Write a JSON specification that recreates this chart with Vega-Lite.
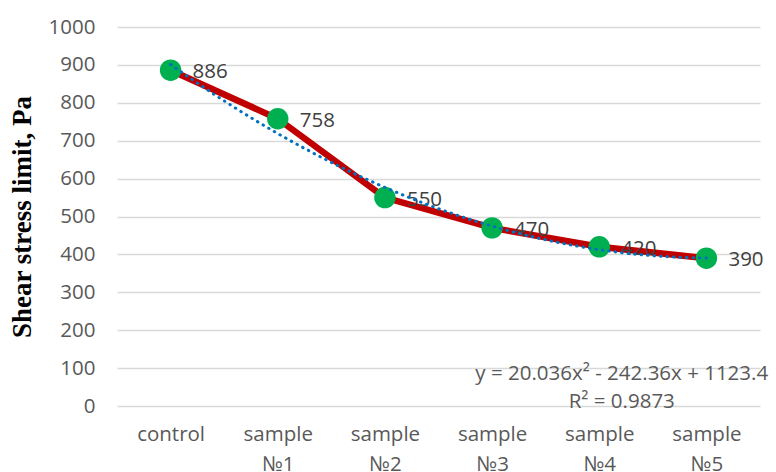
{
  "$schema": "https://vega.github.io/schema/vega-lite/v6.json",
  "width": 643,
  "height": 379,
  "autosize": "none",
  "padding": {"left": 117, "top": 27, "right": 16, "bottom": 66},
  "background": "white",
  "config": {"view": {"stroke": null}},
  "datasets": {
    "main": [
      {"idx": 1, "name": "control", "v": 886},
      {"idx": 2, "name": "sample №1", "v": 758},
      {"idx": 3, "name": "sample №2", "v": 550},
      {"idx": 4, "name": "sample №3", "v": 470},
      {"idx": 5, "name": "sample №4", "v": 420},
      {"idx": 6, "name": "sample №5", "v": 390}
    ],
    "eq": [
      {"idx": 5.21, "v": 84, "t": "y = 20.036x² - 242.36x + 1123.4"},
      {"idx": 5.21, "v": 10.5, "t": "R² = 0.9873"}
    ]
  },
  "encoding": {
    "x": {
      "field": "idx",
      "type": "quantitative",
      "scale": {"domain": [0.5, 6.5], "nice": false, "zero": false},
      "axis": {
        "title": null,
        "values": [1, 2, 3, 4, 5, 6],
        "labelExpr": "datum.value == 1 ? 'control' : ['sample', '№' + (datum.value - 1)]",
        "grid": false,
        "domain": false,
        "ticks": false,
        "labelFont": "Open Sans",
        "labelFontSize": 20.5,
        "labelColor": "#595959",
        "labelPadding": 18,
        "labelLineHeight": 30,
        "labelBaseline": "top"
      }
    },
    "y": {
      "field": "v",
      "type": "quantitative",
      "scale": {"domain": [0, 1000], "nice": false},
      "axis": {
        "title": "Shear stress limit, Pa",
        "titleFont": "Liberation Serif",
        "titleFontWeight": "bold",
        "titleFontSize": 27,
        "titleColor": "#000000",
        "titleX": -95,
        "titleBaseline": "middle",
        "values": [0, 100, 200, 300, 400, 500, 600, 700, 800, 900, 1000],
        "format": "d",
        "grid": true,
        "gridColor": "#d9d9d9",
        "gridWidth": 1.5,
        "domain": false,
        "ticks": false,
        "labelFont": "Open Sans",
        "labelFontSize": 20.5,
        "labelColor": "#595959",
        "labelPadding": 22
      }
    }
  },
  "layer": [
    {
      "data": {"name": "main"},
      "mark": {"type": "line", "color": "#C00000", "strokeWidth": 6.5}
    },
    {
      "data": {"name": "main"},
      "mark": {"type": "circle", "color": "#00B050", "opacity": 1, "size": 460}
    },
    {
      "data": {"name": "main"},
      "mark": {"type": "text", "align": "left", "baseline": "middle", "dx": 22, "dy": 2, "font": "Open Sans", "fontSize": 20.5, "color": "#404040"},
      "encoding": {"text": {"field": "v", "type": "quantitative"}}
    },
    {
      "data": {"name": "main"},
      "transform": [{"regression": "v", "on": "idx", "method": "poly", "order": 2}],
      "mark": {"type": "line", "color": "#0070C0", "strokeWidth": 3, "strokeDash": [0.5, 6], "strokeCap": "round"}
    },
    {
      "data": {"name": "eq"},
      "mark": {"type": "text", "align": "center", "baseline": "middle", "font": "Open Sans", "fontSize": 20.5, "color": "#595959"},
      "encoding": {"text": {"field": "t", "type": "nominal"}}
    }
  ]
}
